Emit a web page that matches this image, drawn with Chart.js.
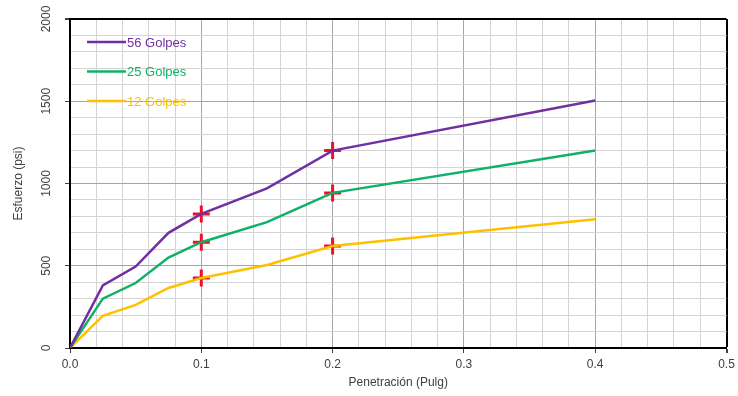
<!DOCTYPE html>
<html>
<head>
<meta charset="utf-8">
<script src="https://cdn.jsdelivr.net/npm/chart.js@4/dist/chart.umd.min.js"></script>
<style>
  html, body { margin: 0; padding: 0; background: #fff; }
  #wrap { width: 738px; height: 396px; position: relative; }
</style>
</head>
<body>
<div id="wrap"><canvas id="chart"></canvas></div>
<script>
// penetration (in) and stress (psi) for each compaction energy
const penetracion = [0, 0.025, 0.05, 0.075, 0.1, 0.15, 0.2, 0.4];
const golpes56 = [0, 380, 495, 700, 815, 970, 1200, 1505];
const golpes25 = [0, 300, 395, 550, 643, 765, 943, 1200];
const golpes12 = [0, 195, 262, 365, 425, 505, 620, 782];

// red crosses at 0.1" and 0.2"
const crucesX = [0.1, 0.1, 0.1, 0.2, 0.2, 0.2];
const crucesY = [815, 643, 425, 1200, 943, 620];

const yTicks = [0, 500, 1000, 1500, 2000];

const PURPLE = '#7030a0', GREEN = '#10b068', YELLOW = '#ffc000';
const FONT = '"Liberation Sans", Arial, sans-serif';

const toPts = (xs, ys) => xs.map((x, i) => ({ x: x, y: ys[i] }));
const isMajorX = v => Math.abs(v * 10 - Math.round(v * 10)) < 1e-6;
const isMajorY = v => v % 500 === 0;

const serie = (label, ys, color) => ({
  label: label,
  data: toPts(penetracion, ys),
  borderColor: color,
  backgroundColor: color,
  borderWidth: 2.5,
  pointRadius: 0,
  tension: 0,
  showLine: true,
  legendLine: true
});

// legend drawn inside the plot, plus rotated y tick labels
const extras = {
  id: 'extras',
  afterDraw(chart) {
    const ctx = chart.ctx;
    const ys = chart.scales.y;
    ctx.save();
    ctx.font = '12px ' + FONT;
    ctx.fillStyle = '#404040';
    ctx.textAlign = 'center';
    ctx.textBaseline = 'middle';
    yTicks.forEach(v => {
      const py = ys.getPixelForValue(v);
      ctx.save();
      ctx.translate(47, py);
      ctx.rotate(-Math.PI / 2);
      ctx.fillText(String(v), 0, 0);
      ctx.restore();
    });

    ctx.font = '13px ' + FONT;
    ctx.textAlign = 'left';
    let row = 0;
    chart.data.datasets.forEach(ds => {
      if (!ds.legendLine) return;
      const y = 42 + row * 29.5;
      ctx.strokeStyle = ds.borderColor;
      ctx.lineWidth = 2.5;
      ctx.beginPath();
      ctx.moveTo(87, y);
      ctx.lineTo(126, y);
      ctx.stroke();
      ctx.fillStyle = ds.borderColor;
      ctx.fillText(ds.label, 127, y + 1);
      row++;
    });
    ctx.restore();
  }
};

new Chart(document.getElementById('chart'), {
  type: 'scatter',
  data: {
    datasets: [
      serie('56 Golpes', golpes56, PURPLE),
      serie('25 Golpes', golpes25, GREEN),
      serie('12 Golpes', golpes12, YELLOW),
      {
        label: 'cruces',
        data: toPts(crucesX, crucesY),
        showLine: false,
        pointStyle: 'cross',
        pointRadius: 8.5,
        pointBorderWidth: 3,
        borderColor: '#ee1026',
        backgroundColor: '#ee1026'
      }
    ]
  },
  options: {
    responsive: true,
    maintainAspectRatio: false,
    animation: false,
    layout: { padding: { left: 0, right: 5, top: 19, bottom: 0 } },
    plugins: { legend: { display: false }, tooltip: { enabled: false } },
    scales: {
      x: {
        type: 'linear',
        min: 0, max: 0.5,
        afterFit: s => { s.height = 48; s.paddingRight = 0; s.paddingLeft = 0; },
        ticks: {
          stepSize: 0.02,
          autoSkip: false,
          maxRotation: 0,
          padding: 4,
          color: '#404040',
          font: { family: FONT, size: 12 },
          callback: v => isMajorX(v) ? v.toFixed(1) : ''
        },
        grid: {
          color: c => {
            const v = c.tick ? c.tick.value : 0;
            if (Math.abs(v - 0.5) < 1e-6) return '#000';
            return isMajorX(v) ? '#a6a6a6' : '#d4d4d4';
          },
          lineWidth: c => {
            const v = c.tick ? c.tick.value : 0;
            return Math.abs(v - 0.5) < 1e-6 ? 2 : 1;
          },
          tickColor: c => isMajorX(c.tick ? c.tick.value : 0) ? '#404040' : 'rgba(0,0,0,0)',
          tickLength: 5
        },
        border: { color: '#000', width: 2 },
        title: {
          display: true,
          text: 'Penetración (Pulg)',
          color: '#404040',
          font: { family: FONT, size: 12 },
          padding: { top: 1, bottom: 6 }
        }
      },
      y: {
        min: 0, max: 2000,
        afterFit: s => { s.width = 70; },
        ticks: { stepSize: 100, display: false },
        grid: {
          color: c => {
            const v = c.tick ? c.tick.value : 0;
            if (v === 2000) return '#000';
            return isMajorY(v) ? '#a6a6a6' : '#d4d4d4';
          },
          lineWidth: c => (c.tick && c.tick.value === 2000) ? 2 : 1,
          drawTicks: true,
          tickColor: c => isMajorY(c.tick ? c.tick.value : 0) ? '#404040' : 'rgba(0,0,0,0)',
          tickLength: 5
        },
        border: { color: '#000', width: 2 },
        title: {
          display: true,
          text: 'Esfuerzo (psi)',
          color: '#404040',
          font: { family: FONT, size: 12 },
          padding: { top: 11, bottom: 0 }
        }
      }
    }
  },
  plugins: [extras]
});
</script>
</body>
</html>
